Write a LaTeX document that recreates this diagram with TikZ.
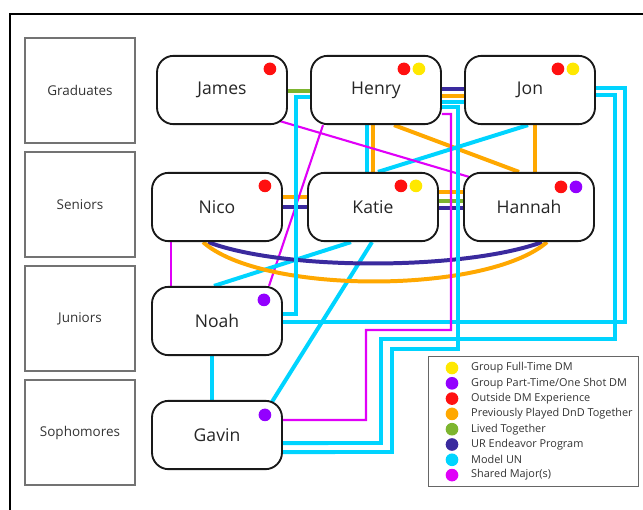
\documentclass[tikz,border=0pt]{standalone}
\usepackage{fontspec}
\setmainfont{Open Sans}
\usetikzlibrary{calc, backgrounds}
\definecolor{dmyellow}{HTML}{FFE800}
\definecolor{dmpurple}{HTML}{9300FF}
\definecolor{dmred}{HTML}{FF1010}
\definecolor{dndorange}{HTML}{FFA800}
\definecolor{lived}{HTML}{7DB52F}
\definecolor{urblue}{HTML}{3A2A9E}
\definecolor{mun}{HTML}{00D4FF}
\definecolor{major}{HTML}{E000F8}
\tikzstyle{person} = [rectangle, rounded corners=0.5cm, minimum width=3.9cm, minimum height=2.05cm, text centered, draw=black!90, line width=1.6pt, fill=white, text=black!85, font=\fontsize{15}{18}\selectfont]
\tikzstyle{year} = [rectangle, minimum width=3.3cm, minimum height=3.15cm, draw=black!55, line width=1pt, text=black!80, font=\fontsize{11.5}{14}\selectfont]
\tikzstyle{link} = [line width=3.4pt]
\tikzstyle{thinlink} = [line width=1.8pt]
\tikzstyle{legendtext} = [anchor=west, inner sep=0pt, text=black!80, font=\fontsize{9.3}{11}\selectfont]
\tikzstyle{every node}=[node distance=3.42cm]

\begin{document}
\begin{tikzpicture}[x=0.03cm, y=-0.03cm]
			\useasboundingbox (0,0) rectangle (643,510);
			%outer frame
			\draw [line width=2.4pt] (10,510) -- (10,14) -- (643,14);

			%year boxes
			\node (grad) [year] at (80,90.5) {Graduates};
			\node (senior) [year, below of=grad] {Seniors};
			\node (junior) [year, below of=senior] {Juniors};
			\node (soph) [year, below of=junior] {Sophomores};

			%people
			\node (james) [person] at (222,90) {James};
			\node (henry) [person, right of=james, node distance=4.62cm] {Henry};
			\node (jon) [person, right of=henry, node distance=4.62cm] {Jon};
			\node (nico) [person] at (217,207) {Nico};
			\node (katie) [person, right of=nico, node distance=4.68cm] {Katie};
			\node (hannah) [person, right of=katie, node distance=4.68cm] {Hannah};
			\node (noah) [person, below of=nico] {Noah};
			\node (gavin) [person, below of=noah] {Gavin};

			%dots
			\fill [dmred] ($(james.north east)+(-18,14)$) circle (0.19cm);
			\fill [dmred] ($(henry.north east)+(-38,14)$) circle (0.19cm);
			\fill [dmyellow] ($(henry.north east)+(-23,14)$) circle (0.19cm);
			\fill [dmred] ($(jon.north east)+(-38,14)$) circle (0.19cm);
			\fill [dmyellow] ($(jon.north east)+(-23,14)$) circle (0.19cm);
			\fill [dmred] ($(nico.north east)+(-18,14)$) circle (0.19cm);
			\fill [dmred] ($(katie.north east)+(-38,14)$) circle (0.19cm);
			\fill [dmyellow] ($(katie.north east)+(-23,14)$) circle (0.19cm);
			\fill [dmred] ($(hannah.north east)+(-34,15)$) circle (0.19cm);
			\fill [dmpurple] ($(hannah.north east)+(-19,15)$) circle (0.19cm);
			\fill [dmpurple] ($(noah.north east)+(-19,14)$) circle (0.19cm);
			\fill [dmpurple] ($(gavin.north east)+(-18,15)$) circle (0.19cm);

			%connections
			\begin{scope}[on background layer]
			\draw [link, urblue] ($(henry.east)+(0,-1)$) -- ($(jon.west)+(0,-1)$);
			\draw [link, dndorange] ($(henry.east)+(0,6)$) -- ($(jon.west)+(0,6)$);
			\draw [link, mun] ($(henry.east)+(0,12)$) -- ($(jon.west)+(0,12)$);
			\draw [link, lived] ($(james.east)+(0,1)$) -- ($(henry.west)+(0,1)$);
			\draw [link, dndorange] ($(nico.east)+(0,-10)$) -- ($(katie.west)+(0,-10)$);
			\draw [link, urblue] (nico.east) -- (katie.west);
			\draw [link, dndorange] ($(katie.east)+(0,-15)$) -- ($(hannah.west)+(0,-15)$);
			\draw [link, lived] ($(katie.east)+(0,-6)$) -- ($(hannah.west)+(0,-6)$);
			\draw [link, urblue] ($(katie.east)+(0,1)$) -- ($(hannah.west)+(0,1)$);
			\draw [link, mun] ($(henry.south)+(-9,0)$) coordinate (hk1) -- (hk1 |- katie.north);
			\draw [link, dndorange] ($(henry.south)+(-3,0)$) coordinate (hk2) -- (hk2 |- katie.north);
			\draw [link, dndorange] ($(jon.south)+(5,0)$) coordinate (jh) -- (jh |- hannah.north);
			\draw [link, dndorange] ($(henry.south)+(18,0)$) -- ($(hannah.north)+(-10,0)$);
			\draw [link, mun] ($(jon.south)+(-2,0)$) -- ($(katie.north)+(5,0)$);
			\draw [thinlink, major] ($(james.south east)+(-8,-4)$) -- ($(hannah.north west)+(6,5)$);
			\draw [thinlink, major] ($(henry.south)+(-53,0)$) -- ($(noah.north)+(52,0)$);
			\draw [thinlink, major] ($(nico.south)+(-46,0)$) coordinate (nn) -- (nn |- noah.north);
			\draw [link, mun] ($(katie.south)+(-22,0)$) -- ($(noah.north)+(-3,0)$);
			\draw [link, mun] ($(katie.south)+(-1,0)$) -- ($(gavin.north east)+(-11,2)$);
			\draw [link, mun] ($(noah.south)+(-5,0)$) coordinate (ng) -- (ng |- gavin.north);
			\draw [link, urblue] ($(nico.south)+(-9,0)$) .. controls +(77,29) and +(-77,28) .. ($(hannah.south)+(13,0)$);
			\draw [link, dndorange] ($(nico.south)+(-14,0)$) .. controls +(60,53) and +(-60,52) .. ($(hannah.south)+(18,0)$);
			\draw [link, mun] ($(henry.west)+(0,7)$) -| ($(noah.east)+(13,-7)$) -- ($(noah.east)+(0,-7)$);
			\draw [link, mun] ($(jon.east)+(0,-2)$) -| ($(noah.east)+(342,1)$) -- ($(noah.east)+(0,1)$);
			\draw [link, mun] ($(jon.east)+(0,5)$) -| (615,339) -| (381,443) -- ($(gavin.east)+(0,8)$);
			\draw [link, mun] ($(henry.east)+(0,17)$) -| (458,349) -| (392,452) -- ($(gavin.east)+(0,17)$);
			\draw [thinlink, major] ($(henry.east)+(0,24)$) -| (451,330) -| (366,420) -- ($(gavin.east)+(0,-15)$);
			\end{scope}

			%legend
			\node (legend) [draw=black!60, line width=0.8pt, minimum width=6.3cm, minimum height=3.9cm] at (533.5,421) {};
			\fill [dmyellow] (452,368) circle (0.19cm);
			\node (l1) [legendtext] at (471,368) {Group Full-Time DM};
			\fill [dmpurple] (452,383.3) circle (0.19cm);
			\node (l2) [legendtext] at (471,383.3) {Group Part-Time/One Shot DM};
			\fill [dmred] (452,398.6) circle (0.19cm);
			\node (l3) [legendtext] at (471,398.6) {Outside DM Experience};
			\fill [dndorange] (452,413.9) circle (0.19cm);
			\node (l4) [legendtext] at (471,413.9) {Previously Played DnD Together};
			\fill [lived] (452,429.2) circle (0.19cm);
			\node (l5) [legendtext] at (471,429.2) {Lived Together};
			\fill [urblue] (452,444.5) circle (0.19cm);
			\node (l6) [legendtext] at (471,444.5) {UR Endeavor Program};
			\fill [mun] (452,459.8) circle (0.19cm);
			\node (l7) [legendtext] at (471,459.8) {Model UN};
			\fill [major] (452,475.1) circle (0.19cm);
			\node (l8) [legendtext] at (471,475.1) {Shared Major(s)};
		\end{tikzpicture}
\end{document}
